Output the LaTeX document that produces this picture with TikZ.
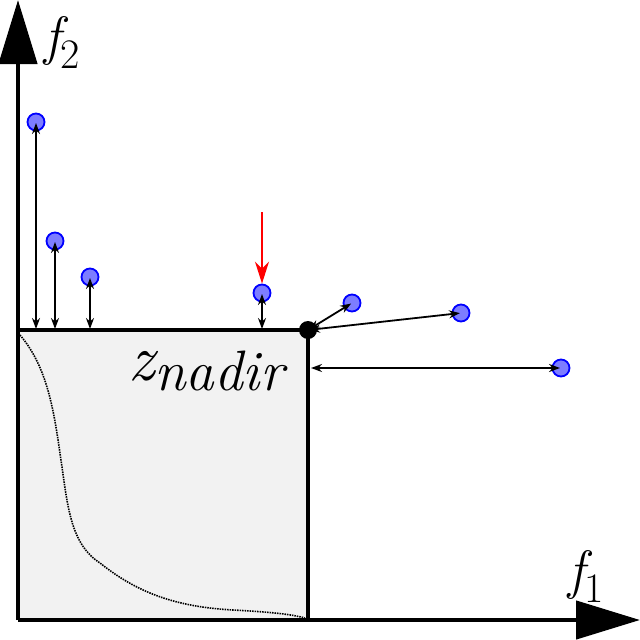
\documentclass[tikz,border=0pt]{standalone}
\usepackage{fontspec}
\usetikzlibrary{arrows.meta}
\definecolor{ptfill}{RGB}{125,125,255}
\definecolor{boxfill}{RGB}{242,242,242}
\tikzset{
  pt/.style={circle,draw=blue,fill=ptfill,line width=1.8pt,minimum size=17pt,inner sep=0pt},
  dist/.style={line width=1.8pt,{Stealth[length=11pt,width=8pt]}-{Stealth[length=11pt,width=8pt]},shorten <=1pt,shorten >=1pt},
  axis/.style={line width=4.5pt,-{Triangle[length=64pt,width=38pt]}},
}
\newcommand{\axlab}[2]{{\fontsize{54}{54}\selectfont\itshape #1}\raisebox{-14pt}{\fontsize{42}{42}\selectfont #2}}
\begin{document}
\begin{tikzpicture}[x=1pt,y=-1pt]
\useasboundingbox (0,0) rectangle (640,640);
% box
\fill[boxfill] (18,330) rectangle (308,620);
\draw[line width=1.6pt,dash pattern=on 1.5pt off 1pt] (20,335) .. controls (50,370) and (55,420) .. (62,467)
  .. controls (68,510) and (72,545) .. (100,563)
  .. controls (140,595) and (180,607) .. (233,610)
  .. controls (270,612) and (290,614) .. (305,618);
\draw[line width=4pt] (18,330) -- (308,330) -- (308,620);
% axes
\coordinate (o) at (18,620);
\coordinate (ytop) at (18,0);
\coordinate (xend) at (640,620);
\draw[axis] (o) -- (ytop);
\draw[axis] (o) -- (xend);
\node[anchor=base west,inner sep=0pt] (f2) at (44,54) {\axlab{f}{2}};
\node[anchor=base west,inner sep=0pt] (f1) at (568,588) {\axlab{f}{1}};
% nadir
\node[circle,fill=black,minimum size=18pt,inner sep=0pt] (nad) at (308,330) {};
\node[anchor=base west,inner sep=0pt] (lab) at (128,380) {{\fontsize{66}{66}\selectfont\itshape z}\raisebox{-10pt}{\fontsize{57}{57}\selectfont\itshape nadir}};
% points
\node[pt] (p1) at (36,122) {};
\node[pt] (p2) at (55,241) {};
\node[pt] (p3) at (90,277) {};
\node[pt] (p4) at (262,293) {};
\node[pt] (p5) at (352,303) {};
\node[pt] (p6) at (461,313) {};
\node[pt] (p7) at (561,368) {};
\coordinate (b1) at (36,330);
\coordinate (b2) at (55,330);
\coordinate (b3) at (90,330);
\coordinate (b4) at (262,330);
\coordinate (b7) at (310,368);
\draw[dist] (p1.center) -- (b1);
\draw[dist] (p2.center) -- (b2);
\draw[dist] (p3.center) -- (b3);
\draw[dist] (p4.center) -- (b4);
\draw[dist] (nad.center) -- (p5.center);
\draw[dist] (nad.center) -- (p6.center);
\draw[dist] (b7) -- (p7.center);
% red arrow
\coordinate (r0) at (262,212);
\draw[red,line width=1.8pt,-{Stealth[length=22pt,width=14pt]}] (r0) -- (p4.north);
\end{tikzpicture}
\end{document}
